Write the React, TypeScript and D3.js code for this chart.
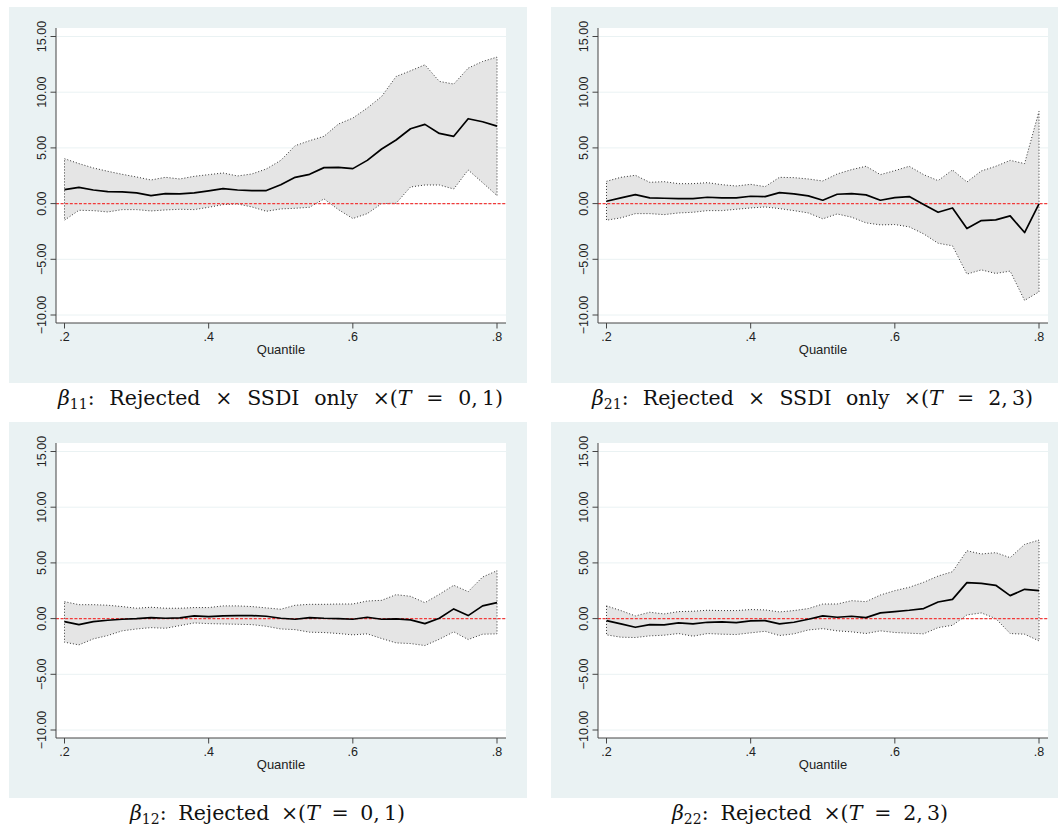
import React, { useLayoutEffect, useRef, useState } from 'react';
import * as d3 from 'd3';

const QUANTILES = [0.20, 0.22, 0.24, 0.26, 0.28, 0.30, 0.32, 0.34, 0.36, 0.38, 0.40, 0.42, 0.44, 0.46, 0.48, 0.50, 0.52, 0.54, 0.56, 0.58, 0.60, 0.62, 0.64, 0.66, 0.68, 0.70, 0.72, 0.74, 0.76, 0.78, 0.80];

const B11_EST = [1.25, 1.46, 1.22, 1.08, 1.05, 0.96, 0.72, 0.90, 0.87, 0.96, 1.14, 1.34, 1.22, 1.17, 1.17, 1.70, 2.36, 2.63, 3.23, 3.26, 3.14, 3.88, 4.90, 5.71, 6.72, 7.11, 6.30, 6.04, 7.62, 7.35, 6.96];
const B11_UPPER = [4.03, 3.59, 3.20, 2.90, 2.63, 2.39, 2.12, 2.36, 2.21, 2.45, 2.60, 2.75, 2.48, 2.66, 3.11, 3.88, 5.20, 5.65, 6.04, 7.14, 7.68, 8.58, 9.62, 11.41, 11.92, 12.46, 10.97, 10.73, 12.16, 12.76, 13.15];
const B11_LOWER = [-1.49, -0.60, -0.63, -0.75, -0.54, -0.54, -0.66, -0.57, -0.51, -0.54, -0.33, -0.09, -0.03, -0.30, -0.69, -0.48, -0.42, -0.33, 0.42, -0.54, -1.34, -0.90, 0.00, 0.03, 1.49, 1.67, 1.67, 1.31, 3.02, 1.88, 0.72];

const B21_EST = [0.21, 0.51, 0.81, 0.51, 0.48, 0.45, 0.45, 0.57, 0.51, 0.51, 0.66, 0.63, 0.99, 0.87, 0.69, 0.30, 0.84, 0.90, 0.78, 0.30, 0.54, 0.63, -0.09, -0.78, -0.39, -2.24, -1.52, -1.46, -1.10, -2.60, -0.03];
const B21_UPPER = [2.00, 2.36, 2.54, 1.91, 1.97, 1.79, 1.79, 1.88, 1.70, 1.58, 1.73, 1.52, 2.36, 2.33, 2.21, 2.03, 2.66, 3.05, 3.35, 2.60, 2.96, 3.35, 2.60, 2.06, 3.02, 1.94, 2.93, 3.35, 3.88, 3.59, 8.28];
const B21_LOWER = [-1.49, -1.28, -0.90, -0.90, -0.99, -0.84, -0.78, -0.63, -0.63, -0.51, -0.39, -0.30, -0.45, -0.63, -0.84, -1.37, -0.93, -1.22, -1.73, -1.91, -1.88, -2.09, -2.72, -3.56, -3.79, -6.33, -5.95, -6.27, -6.06, -8.69, -7.92];

const B12_EST = [-0.27, -0.54, -0.27, -0.15, -0.06, 0.00, 0.09, 0.03, 0.06, 0.24, 0.18, 0.24, 0.27, 0.27, 0.21, 0.03, -0.06, 0.09, 0.03, 0.00, -0.06, 0.12, -0.06, -0.03, -0.12, -0.45, 0.03, 0.87, 0.27, 1.14, 1.43];
const B12_UPPER = [1.52, 1.25, 1.25, 1.20, 1.08, 0.93, 1.02, 0.93, 0.93, 0.99, 0.99, 1.14, 1.14, 1.08, 0.96, 0.84, 1.20, 1.28, 1.28, 1.31, 1.31, 1.58, 1.64, 2.15, 2.00, 1.43, 2.18, 2.99, 2.42, 3.73, 4.30];
const B12_LOWER = [-2.12, -2.36, -1.82, -1.52, -1.10, -0.93, -0.81, -0.87, -0.63, -0.39, -0.45, -0.48, -0.51, -0.54, -0.69, -0.93, -0.99, -1.22, -1.25, -1.34, -1.46, -1.37, -1.79, -2.18, -2.24, -2.42, -1.85, -1.19, -1.88, -1.40, -1.37];

const B22_EST = [-0.18, -0.48, -0.78, -0.54, -0.57, -0.39, -0.48, -0.33, -0.30, -0.36, -0.21, -0.18, -0.48, -0.33, -0.06, 0.24, 0.12, 0.21, 0.09, 0.51, 0.63, 0.75, 0.90, 1.49, 1.73, 3.23, 3.17, 2.99, 2.06, 2.63, 2.51];
const B22_UPPER = [1.14, 0.72, 0.24, 0.57, 0.42, 0.63, 0.66, 0.75, 0.72, 0.72, 0.81, 0.78, 0.60, 0.72, 0.90, 1.31, 1.31, 1.61, 1.52, 2.12, 2.51, 2.81, 3.26, 3.82, 4.21, 6.09, 5.80, 5.92, 5.47, 6.66, 7.05];
const B22_LOWER = [-1.46, -1.67, -1.70, -1.55, -1.49, -1.34, -1.58, -1.34, -1.40, -1.43, -1.28, -1.14, -1.52, -1.37, -1.02, -0.90, -1.10, -1.19, -1.34, -1.10, -1.25, -1.31, -1.37, -0.81, -0.60, 0.33, 0.51, 0.00, -1.34, -1.40, -2.00];

const Y_TICKS = [15, 10, 5, 0, -5, -10];
const Y_TICK_LABELS = ['15.00', '10.00', '5.00', '0.00', '\u22125.00', '\u221210.00'];
const X_TICKS = [0.2, 0.4, 0.6, 0.8];
const X_TICK_LABELS = ['.2', '.4', '.6', '.8'];
const X_TITLE = 'Quantile';

const CAPTION_SUBS = ['11', '21', '12', '22'];
const CAPTION_TEXTS = [': Rejected \u00d7 SSDI only \u00d7(', ': Rejected \u00d7 SSDI only \u00d7(', ': Rejected \u00d7(', ': Rejected \u00d7('];
const CAPTION_T = [' = 0,\u20091)', ' = 2,\u20093)', ' = 0,\u20091)', ' = 2,\u20093)'];

const W = 1058;
const H = 839;
const PANEL_W = 518;
const PANEL_H = 376;
const PLOT = { l: 47, t: 21, r: 497, b: 316 };
const BG = '#EAF2F3';
const SANS = 'Liberation Sans, Arial, Helvetica, sans-serif';
const SERIF = 'DejaVu Serif, Liberation Serif, serif';

const xScale = d3.scaleLinear().domain([0.2, 0.8]).range([55.5, 488]);
const yScale = d3.scaleLinear().domain([-10, 15]).range([308, 29.5]);

type PanelProps = {
  px: number;
  py: number;
  est: number[];
  upper: number[];
  lower: number[];
};

function Panel({ px, py, est, upper, lower }: PanelProps) {
  const line = d3
    .line<[number, number]>()
    .x((d) => xScale(d[0]))
    .y((d) => yScale(d[1]));
  const estPts: [number, number][] = QUANTILES.map((q, i) => [q, est[i]]);
  const upPts: [number, number][] = QUANTILES.map((q, i) => [q, upper[i]]);
  const loPts: [number, number][] = QUANTILES.map((q, i) => [q, lower[i]]).reverse() as [number, number][];
  const band = line(upPts.concat(loPts)) + 'Z';
  return (
    <g transform={`translate(${px},${py})`}>
      <rect x={0} y={0} width={PANEL_W} height={PANEL_H} fill={BG} />
      <rect x={PLOT.l} y={PLOT.t} width={PLOT.r - PLOT.l} height={PLOT.b - PLOT.t} fill="#ffffff" />
      {Y_TICKS.map((t) => (
        <line key={'g' + t} x1={PLOT.l} x2={PLOT.r} y1={yScale(t)} y2={yScale(t)} stroke={BG} strokeWidth={1} />
      ))}
      <path d={band} fill="#E5E5E5" stroke="#333333" strokeWidth={1} strokeDasharray="1,2" />
      <line x1={PLOT.l} x2={PLOT.r} y1={yScale(0)} y2={yScale(0)} stroke="#F23A3A" strokeWidth={1.3} strokeDasharray="3,1.6" />
      <path d={line(estPts) || ''} fill="none" stroke="#000000" strokeWidth={1.7} strokeLinejoin="round" />
      <line x1={PLOT.l} x2={PLOT.l} y1={PLOT.t} y2={PLOT.b} stroke="#444444" strokeWidth={1} />
      <line x1={PLOT.l} x2={PLOT.r} y1={PLOT.b} y2={PLOT.b} stroke="#444444" strokeWidth={1} />
      {Y_TICKS.map((t, i) => (
        <g key={'y' + t}>
          <line x1={PLOT.l - 5.5} x2={PLOT.l} y1={yScale(t)} y2={yScale(t)} stroke="#444444" strokeWidth={1} />
          <text
            transform={`translate(${37},${yScale(t)}) rotate(-90)`}
            textAnchor="middle"
            fontFamily={SANS}
            fontSize={12.5}
            fill="#222222"
          >
            {Y_TICK_LABELS[i]}
          </text>
        </g>
      ))}
      {X_TICKS.map((t, i) => (
        <g key={'x' + t}>
          <line x1={xScale(t)} x2={xScale(t)} y1={PLOT.b} y2={PLOT.b + 5.5} stroke="#444444" strokeWidth={1} />
          <text x={xScale(t)} y={334} textAnchor="middle" fontFamily={SANS} fontSize={12.5} fill="#222222">
            {X_TICK_LABELS[i]}
          </text>
        </g>
      ))}
      <text x={(PLOT.l + PLOT.r) / 2} y={347} textAnchor="middle" fontFamily={SANS} fontSize={13} fill="#222222">
        {X_TITLE}
      </text>
    </g>
  );
}

function Caption({ cx, y, idx, len }: { cx: number; y: number; idx: number; len: number }) {
  const ref = useRef<SVGTextElement>(null);
  const [ws, setWs] = useState(0);
  useLayoutEffect(() => {
    const el = ref.current;
    if (!el || ws !== 0) return;
    const natural = el.getComputedTextLength();
    const spaces = (el.textContent || '').split(' ').length - 1;
    if (spaces > 0 && natural < len) setWs((len - natural) / spaces);
  }, [len, ws]);
  return (
    <text
      ref={ref}
      x={cx}
      y={y}
      textAnchor="middle"
      fontFamily={SERIF}
      fontSize={20.5}
      fill="#111111"
      style={{ wordSpacing: `${ws}px` }}
    >
      <tspan fontStyle="italic">{'\u03b2'}</tspan>
      <tspan fontSize={14} dy={4}>
        {CAPTION_SUBS[idx]}
      </tspan>
      <tspan dy={-4}>{CAPTION_TEXTS[idx]}</tspan>
      <tspan fontStyle="italic">T</tspan>
      <tspan>{CAPTION_T[idx]}</tspan>
    </text>
  );
}

export default function App() {
  return (
    <svg width={W} height={H} style={{ position: 'absolute', left: 0, top: 0, background: '#ffffff' }}>
      <rect x={0} y={0} width={W} height={H} fill="#ffffff" />
      <Panel px={9} py={7} est={B11_EST} upper={B11_UPPER} lower={B11_LOWER} />
      <Panel px={551} py={7} est={B21_EST} upper={B21_UPPER} lower={B21_LOWER} />
      <Panel px={9} py={422} est={B12_EST} upper={B12_UPPER} lower={B12_LOWER} />
      <Panel px={551} py={422} est={B22_EST} upper={B22_UPPER} lower={B22_LOWER} />
      <Caption cx={280.5} y={404.5} idx={0} len={445} />
      <Caption cx={812.5} y={404.5} idx={1} len={441} />
      <Caption cx={267.5} y={820} idx={2} len={275} />
      <Caption cx={810} y={820} idx={3} len={276} />
    </svg>
  );
}
